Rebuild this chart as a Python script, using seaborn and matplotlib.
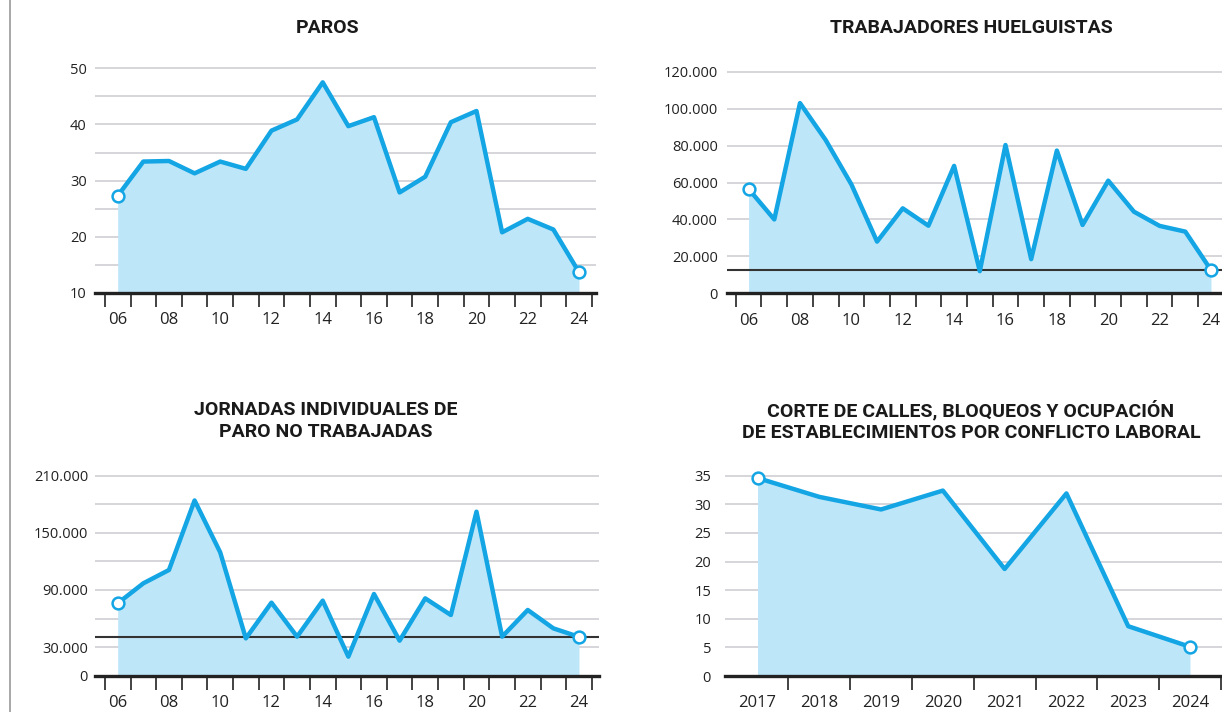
import matplotlib
matplotlib.use("Agg")
import matplotlib.pyplot as plt
from matplotlib.ticker import FixedLocator, FuncFormatter
from matplotlib.lines import Line2D
import seaborn as sns
import pandas as pd

# ---------------- data ----------------
years_long = list(range(2006, 2025))
paros = [27.3, 33.4, 33.5, 31.3, 33.4, 32.1, 38.9, 40.9, 47.5, 39.7,
         41.3, 27.9, 30.7, 40.4, 42.4, 20.8, 23.2, 21.3, 13.7]
huelguistas = [56500, 40000, 103000, 83000, 59000, 28000, 46000, 36600, 69000, 12000,
               80300, 18500, 77300, 37000, 61000, 44200, 36500, 33400, 12600]
jornadas = [76000, 97000, 111000, 184000, 129500, 39200, 76700, 41000, 78800, 20000,
            85800, 36800, 81200, 63700, 172200, 41000, 69000, 49700, 40800]
years_short = list(range(2017, 2025))
cortes = [34.6, 31.3, 29.1, 32.4, 18.7, 31.9, 8.7, 5.1]

xlabel_years_long = list(range(2006, 2025, 2))
xlabels_long = ["06", "08", "10", "12", "14", "16", "18", "20", "22", "24"]
xlabels_short = ["2017", "2018", "2019", "2020", "2021", "2022", "2023", "2024"]

paros_yticks = [10, 20, 30, 40, 50]
paros_ygrid = [15, 25, 35, 45]
huelga_yticks = [0, 20000, 40000, 60000, 80000, 100000, 120000]
jornadas_yticks = [0, 30000, 90000, 150000, 210000]
jornadas_ygrid = [60000, 120000, 180000]
cortes_yticks = [0, 5, 10, 15, 20, 25, 30, 35]

titles = ["PAROS", "TRABAJADORES HUELGUISTAS",
          "JORNADAS INDIVIDUALES DE\nPARO NO TRABAJADAS",
          "CORTE DE CALLES, BLOQUEOS Y OCUPACIÓN\nDE ESTABLECIMIENTOS POR CONFLICTO LABORAL"]

# ---------------- style ----------------
sns.set_theme(style="white")
plt.rcParams["font.family"] = ["Open Sans", "DejaVu Sans"]

LINE = "#13a5e4"
FILL = "#bee6f9"
GRID = "#d3d3d8"
DARK = "#222222"
TXT = "#222222"

W, H = 1222, 712
fig = plt.figure(figsize=(W / 100, H / 100), dpi=100)
fig.patch.set_facecolor("white")


def make_ax(left_px, right_px, xa_px, xa_val, xb_px, xb_val,
            ybot_px, ybot_val, ytop_px, ytop_val, top_margin=5):
    sx = (xb_val - xa_val) / (xb_px - xa_px)
    x0 = xa_val + (left_px - xa_px) * sx
    x1 = xa_val + (right_px - xa_px) * sx
    sy = (ytop_val - ybot_val) / (ybot_px - ytop_px)
    top_px = ytop_px - top_margin
    y1 = ytop_val + top_margin * sy
    ax = fig.add_axes([left_px / W, 1 - ybot_px / H,
                       (right_px - left_px) / W, (ybot_px - top_px) / H])
    ax.set_xlim(x0, x1)
    ax.set_ylim(ybot_val, y1)
    return ax


def style_ax(ax, years, values, yticks, ygrid, xticks, xlabels, ypad,
             boundaries, ref=None, fmt=None):
    df = pd.DataFrame({"year": years, "value": values})
    ybase = ax.get_ylim()[0]
    ax.fill_between(df["year"], df["value"], ybase, color=FILL, lw=0, zorder=1)
    if ref is not None:
        ax.axhline(ref, color="#333333", lw=1.5, zorder=2)
    sns.lineplot(data=df, x="year", y="value", ax=ax, color=LINE, lw=3.2,
                 zorder=3, legend=False)
    ends = df.iloc[[0, -1]]
    ax.plot(ends["year"], ends["value"], "o", ms=8.5, mfc="white", mec=LINE,
            mew=1.8, zorder=4, clip_on=False)
    ax.set_xlabel("")
    ax.set_ylabel("")
    for s in ["left", "right", "top"]:
        ax.spines[s].set_visible(False)
    ax.spines["bottom"].set_color(DARK)
    ax.spines["bottom"].set_linewidth(2.4)
    ax.spines["bottom"].set_zorder(5)
    ax.yaxis.set_major_locator(FixedLocator(yticks))
    ax.yaxis.set_minor_locator(FixedLocator(ygrid))
    if fmt is not None:
        ax.yaxis.set_major_formatter(FuncFormatter(fmt))
    ax.grid(True, axis="y", which="both", color=GRID, lw=1.3, zorder=0)
    ax.set_axisbelow(True)
    ax.tick_params(axis="y", which="both", length=0, pad=ypad,
                   labelsize=10.5, labelcolor=TXT)
    ax.xaxis.set_major_locator(FixedLocator(xticks))
    ax.set_xticklabels(xlabels)
    ax.xaxis.set_minor_locator(FixedLocator(boundaries))
    ax.tick_params(axis="x", which="major", length=0, pad=14, bottom=True,
                   labelsize=12, labelcolor=TXT)
    ax.tick_params(axis="x", which="minor", length=10, width=1.2, bottom=True,
                   color=DARK, direction="out")


def thousands(v, pos):
    return f"{v:,.0f}".replace(",", ".")


bounds_long = [y + 0.5 for y in range(2005, 2025)]
bounds_short = [y + 0.5 for y in range(2017, 2025)]

# Panel 1: PAROS
ax1 = make_ax(95, 596, 117.7, 2006, 579, 2024, 293, 10, 68.3, 50)
style_ax(ax1, years_long, paros, paros_yticks, paros_ygrid,
         xlabel_years_long, xlabels_long, 6, bounds_long)

# Panel 2: TRABAJADORES HUELGUISTAS
ax2 = make_ax(727, 1240, 748.6, 2006, 1211, 2024, 293.3, 0, 71.7, 120000)
style_ax(ax2, years_long, huelguistas, huelga_yticks, [],
         xlabel_years_long, xlabels_long, 6.5, bounds_long,
         ref=huelguistas[-1], fmt=thousands)

# Panel 3: JORNADAS
ax3 = make_ax(95, 599, 117.7, 2006, 579, 2024, 675.7, 0, 475.7, 210000)
style_ax(ax3, years_long, jornadas, jornadas_yticks, jornadas_ygrid,
         xlabel_years_long, xlabels_long, 5, bounds_long,
         ref=jornadas[-1], fmt=thousands)

# Panel 4: CORTES
ax4 = make_ax(725, 1240, 757.5, 2017, 1190, 2024, 676, 0, 475.7, 35)
style_ax(ax4, years_short, cortes, cortes_yticks, [],
         years_short, xlabels_short, 10, bounds_short)

# Titles
title_font = dict(family=["Roboto", "DejaVu Sans"],
                  weight="bold", size=14, color="#1a1a1a",
                  ha="center", va="center", linespacing=1.25)
fig.text(328 / W, 1 - 28 / H, titles[0], **title_font)
fig.text(971 / W, 1 - 28 / H, titles[1], **title_font)
fig.text(326 / W, 1 - 421 / H, titles[2], **title_font)
fig.text(971 / W, 1 - 421 / H, titles[3], **title_font)

# left border line
fig.add_artist(Line2D([10 / W, 10 / W], [0, 1], color="#9a9a9a", lw=1.2,
                      transform=fig.transFigure))

fig.savefig("out.png", dpi=100, facecolor="white")
